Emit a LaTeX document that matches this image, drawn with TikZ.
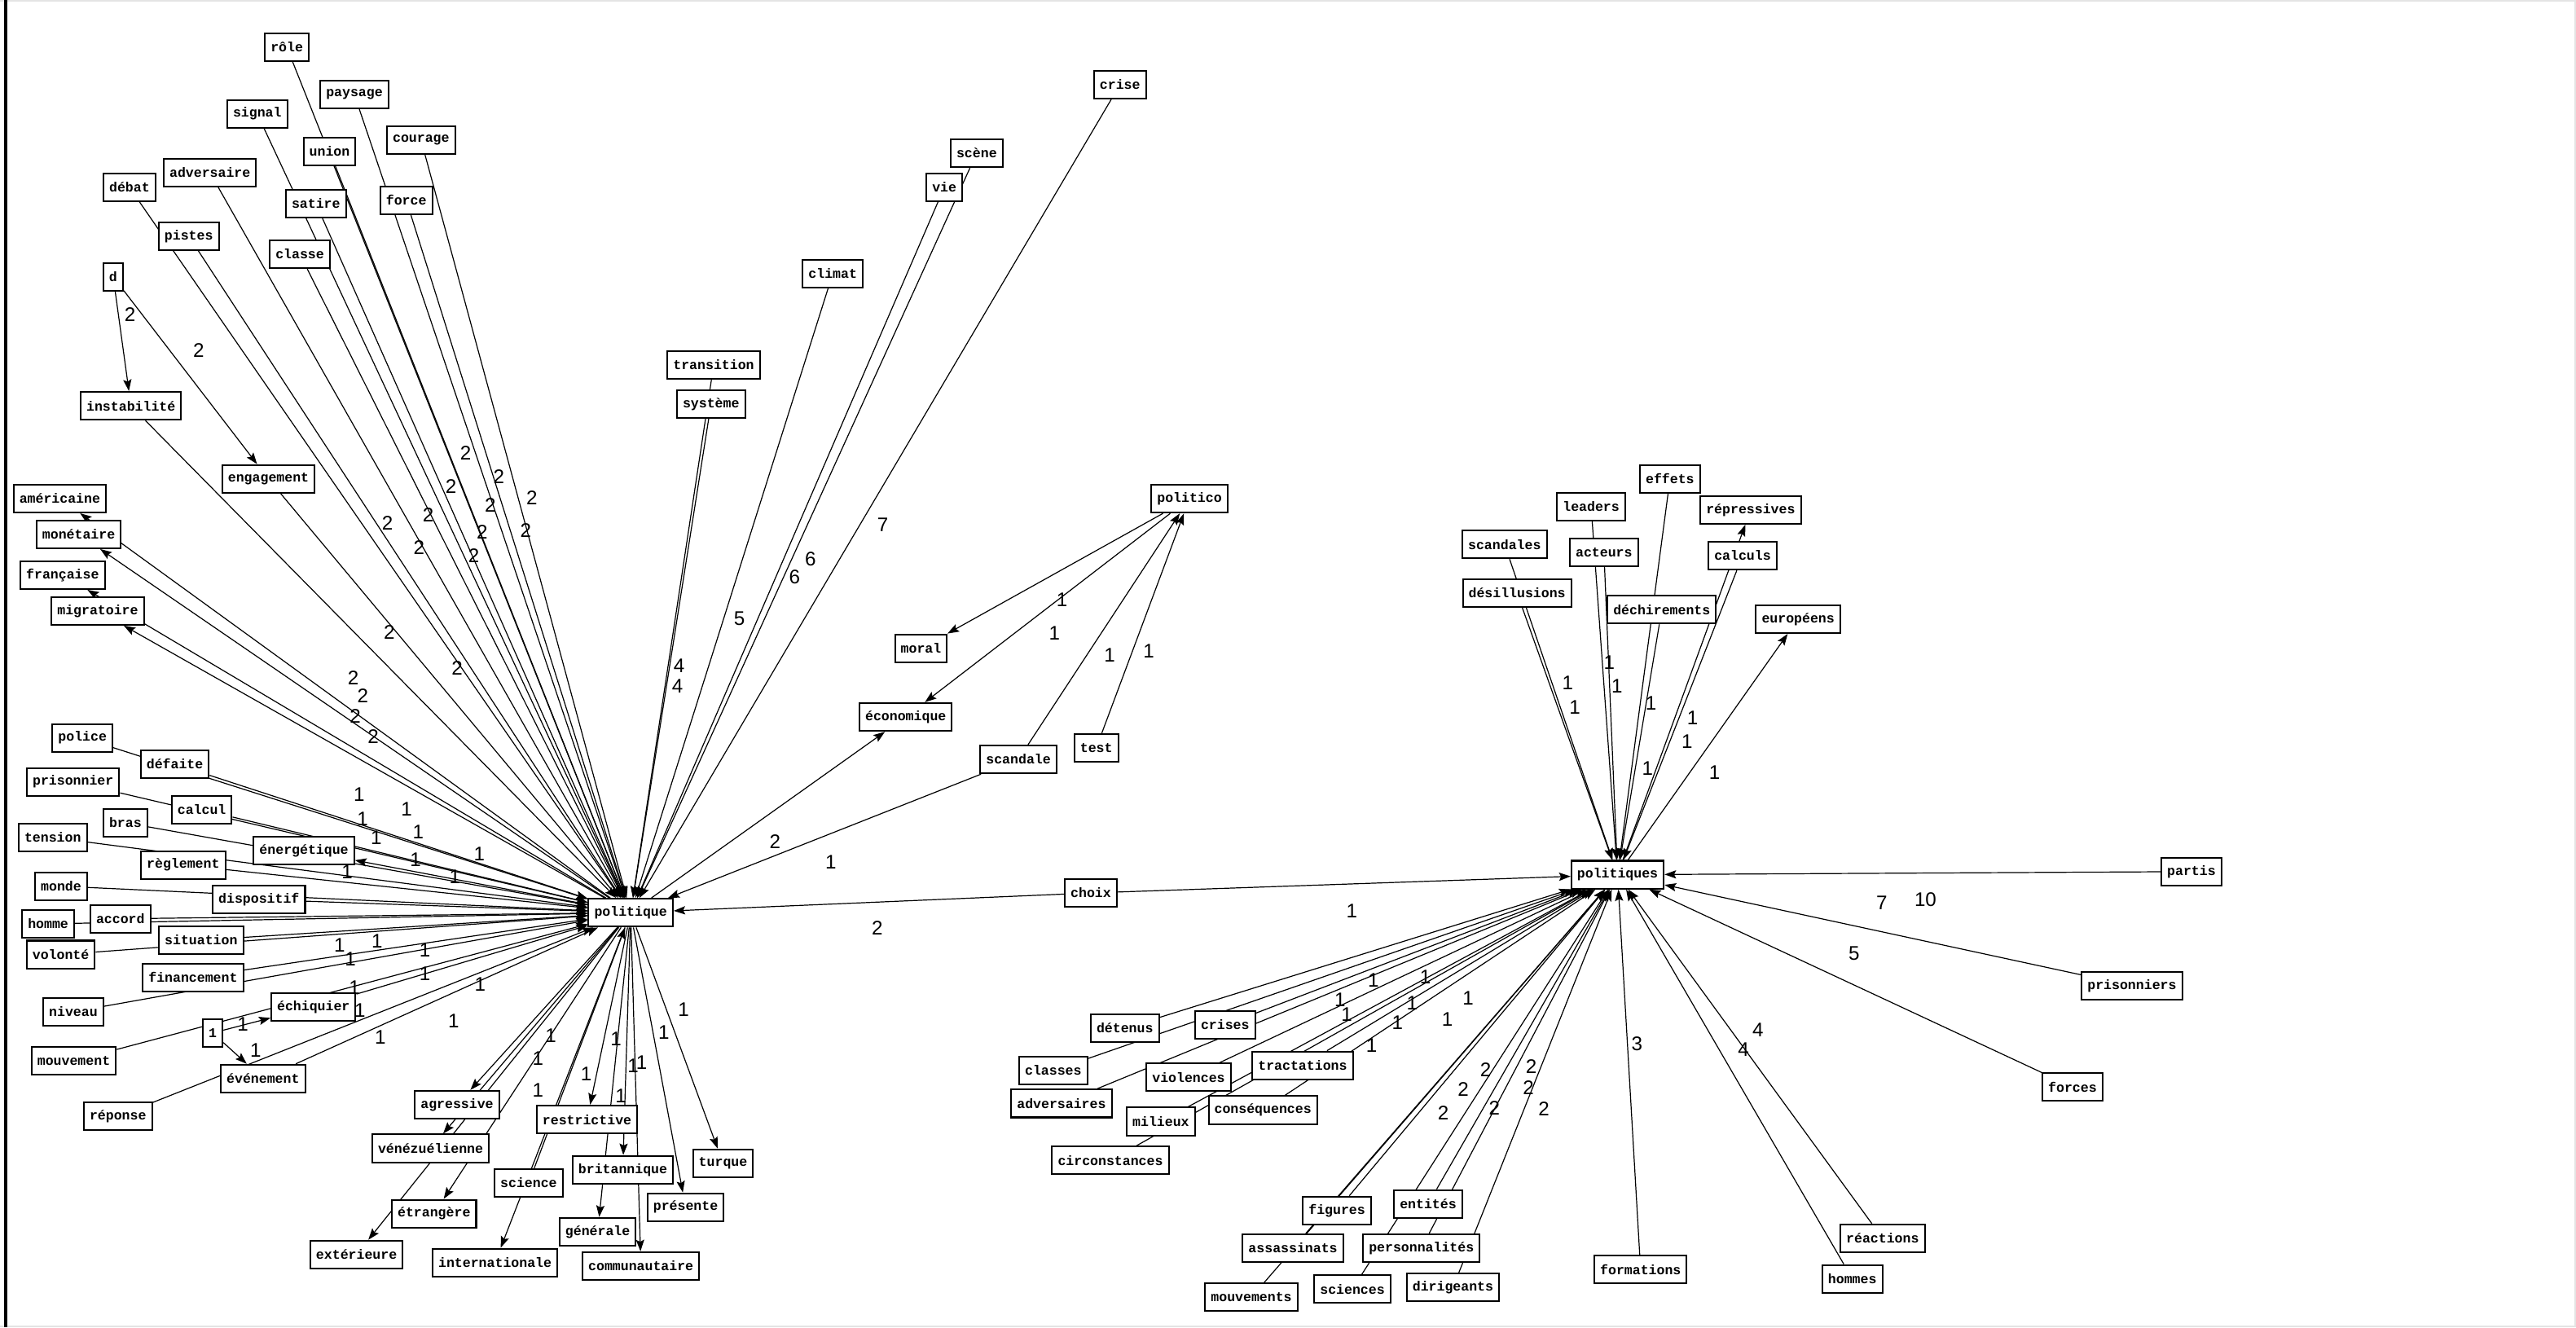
\documentclass[tikz,border=0pt]{standalone}
\usepackage{fontspec}
\setmainfont{Liberation Serif}
\newfontfamily\boxfont{Liberation Mono}
\newfontfamily\numfont{Liberation Sans}
\usetikzlibrary{arrows.meta,backgrounds}
\definecolor{edgegray}{HTML}{E4E4E4}
\tikzset{
  word/.style={draw,line width=1pt,fill=white,inner xsep=3.5pt,inner ysep=0pt,minimum height=17pt,font=\boxfont\bfseries\fontsize{8.2}{9}\selectfont},
  num/.style={inner sep=0pt,font=\numfont\fontsize{12}{13}\selectfont},
  arr/.style={-{Stealth[length=7pt,width=5pt,inset=1.2pt]},line width=0.6pt}
}

\begin{document}
\begin{tikzpicture}[x=1pt,y=-1pt]
\useasboundingbox (0,0) rectangle (1568,808);
\draw[edgegray,line width=1pt] (0,0.5)--(1568,0.5) (1567.5,0)--(1567.5,808) (0,807.5)--(1568,807.5);
\draw[line width=1.8pt] (3.4,0)--(3.4,808);

% hub left
\node[word] (pol) at (383.9,555.5) {politique};

% upper fan
\node[word] (role) at (174.6,28.7) {rôle};
\node[word] (paysage) at (215.7,57.5) {paysage};
\node[word] (signal) at (156.6,69.3) {signal};
\node[word] (courage) at (256.3,85.3) {courage};
\node[word] (union) at (200.6,92.2) {union};
\node[word] (adversaire) at (127.8,105.1) {adversaire};
\node[word] (debat) at (78.8,114) {débat};
\node[word] (satire) at (192.3,123.9) {satire};
\node[word] (force) at (247.3,121.9) {force};
\node[word] (pistes) at (114.9,143.7) {pistes};
\node[word] (classe) at (182.5,154.7) {classe};
\node[word] (d) at (68.9,168.5) {d};
\node[word] (instab) at (79.7,247) {instabilité};
\node[word] (engag) at (163.4,291.5) {engagement};
\node[word] (americ) at (36.4,303.4) {américaine};
\node[word] (monet) at (47.9,325.2) {monétaire};
\node[word] (franc) at (38.1,350) {française};
\node[word] (migr) at (59.5,371.8) {migratoire};
\node[word] (transition) at (434.4,222.2) {transition};
\node[word] (systeme) at (432.8,245.9) {système};
\node[word] (climat) at (506.9,166.5) {climat};
\node[word] (scene) at (594.5,93.2) {scène};
\node[word] (vie) at (574.8,114) {vie};
\node[word] (crise) at (681.7,51.5) {crise};
\node[word] (politico) at (724,303.5) {politico};
\node[word] (moral) at (560.6,394.6) {moral};
\node[word] (econ) at (551.3,436.4) {économique};
\node[word] (scandale) at (619.9,462.2) {scandale};
\node[word] (test) at (667.3,455.2) {test};
\node[word] (choix) at (664,543.5) {choix};

% lower left
\node[word] (police) at (50.2,449.1) {police};
\node[word] (defaite) at (106.4,465) {défaite};
\node[word] (prisonnier) at (44.5,475.9) {prisonnier};
\node[word] (calcul) at (122.8,492.8) {calcul};
\node[word] (bras) at (76.3,500.8) {bras};
\node[word] (tension) at (32.1,509.8) {tension};
\node[word] (energ) at (185,517.7) {énergétique};
\node[word] (reglement) at (111.5,526.5) {règlement};
\node[word] (monde) at (37.2,539.4) {monde};
\node[word] (dispositif) at (157.6,547.5) {dispositif};
\node[word] (homme) at (29.3,562.3) {homme};
\node[word] (accord) at (73.3,559.2) {accord};
\node[word] (situation) at (122.4,572.2) {situation};
\node[word] (volonte) at (37,581) {volonté};
\node[word] (financement) at (117.5,595) {financement};
\node[word] (niveau) at (44.6,615.8) {niveau};
\node[word] (echiquier) at (190.8,612.8) {échiquier};
\node[word] (un) at (129.5,628.7) {1};
\node[word] (mouvement) at (44.9,645.7) {mouvement};
\node[word] (evenement) at (160.1,656.5) {événement};
\node[word] (reponse) at (71.8,679.4) {réponse};

% lower right of politique
\node[word] (agressive) at (278.2,672.4) {agressive};
\node[word] (venez) at (262.1,699) {vénézuélienne};
\node[word] (restrictive) at (357.3,681.4) {restrictive};
\node[word] (britannique) at (379.1,712) {britannique};
\node[word] (turque) at (440.1,708) {turque};
\node[word] (science) at (321.8,720) {science};
\node[word] (etrangere) at (264.2,738.7) {étrangère};
\node[word] (presente) at (417.3,734.8) {présente};
\node[word] (generale) at (363.8,749.7) {générale};
\node[word] (exterieure) at (217,763.6) {extérieure};
\node[word] (internat) at (301.3,768.5) {internationale};
\node[word] (communaut) at (390.1,770.6) {communautaire};

% hub right
\node[word] (pols) at (984.6,532.4) {politiques};
\node[word] (effets) at (1016.5,291.5) {effets};
\node[word] (leaders) at (968.5,308.3) {leaders};
\node[word] (repress) at (1065.6,310.4) {répressives};
\node[word] (scandales) at (915.8,331.3) {scandales};
\node[word] (acteurs) at (976.3,336.2) {acteurs};
\node[word] (calculs) at (1060.7,338.2) {calculs};
\node[word] (desill) at (923.4,360.9) {désillusions};
\node[word] (dechir) at (1011.5,371) {déchirements};
\node[word] (europ) at (1094.5,376.8) {européens};
\node[word] (partis) at (1333.9,530.5) {partis};
\node[word] (prisonniers) at (1297.7,600) {prisonniers};
\node[word] (forces) at (1261.5,661.5) {forces};
\node[word] (detenus) at (684.7,625.8) {détenus};
\node[word] (crises) at (745.7,623.8) {crises};
\node[word] (classes) at (641.1,651.6) {classes};
\node[word] (tractations) at (792.9,648.5) {tractations};
\node[word] (violences) at (723.5,655.7) {violences};
\node[word] (adversaires) at (646.1,671.6) {adversaires};
\node[word] (consequences) at (768.7,675.6) {conséquences};
\node[word] (milieux) at (706.6,682.6) {milieux};
\node[word] (circonst) at (675.9,706.3) {circonstances};
\node[word] (figures) at (813.8,736.8) {figures};
\node[word] (entites) at (869.3,732.8) {entités};
\node[word] (assassinats) at (787,759.7) {assassinats};
\node[word] (personn) at (865.2,759.7) {personnalités};
\node[word] (mouvements) at (761.7,789.6) {mouvements};
\node[word] (sciences) at (823.2,784.6) {sciences};
\node[word] (dirigeants) at (884.4,783.6) {dirigeants};
\node[word] (formations) at (998.6,772.6) {formations};
\node[word] (reactions) at (1145.9,753.7) {réactions};
\node[word] (hommes) at (1127.5,778.4) {hommes};

% links, under the boxes
\begin{scope}[on background layer]
\draw[arr] (role)--(pol); \draw[arr] (union)--(pol); \draw[arr] (signal)--(pol); \draw[arr] (satire)--(pol);
\draw[arr] (paysage)--(pol); \draw[arr] (force)--(pol); \draw[arr] (courage)--(pol); \draw[arr] (adversaire)--(pol);
\draw[arr] (debat)--(pol); \draw[arr] (pistes)--(pol); \draw[arr] (classe)--(pol);
\draw[arr] (instab)--(pol); \draw[arr] (engag)--(pol);
\draw[arr] (d)--(instab); \draw[arr] (d)--(engag);
\draw[arr] (pol)--(americ); \draw[arr] (pol)--(monet); \draw[arr] (pol)--(franc); \draw[arr] (pol)--(migr);
\draw[arr] (transition)--(pol); \draw[arr] (systeme)--(pol); \draw[arr] (climat)--(pol);
\draw[arr] (vie)--(pol); \draw[arr] (scene)--(pol); \draw[arr] (crise)--(pol);
\draw[arr] (politico)--(moral); \draw[arr] (politico)--(econ); \draw[arr] (scandale)--(politico); \draw[arr] (test)--(politico);
\draw[arr] (pol)--(econ); \draw[arr] (scandale)--(pol); \draw[arr] (choix)--(pol); \draw[arr] (choix)--(pols);

\draw[arr] (police)--(pol); \draw[arr] (defaite)--(pol); \draw[arr] (prisonnier)--(pol); \draw[arr] (calcul)--(pol);
\draw[arr] (bras)--(pol); \draw[arr] (tension)--(pol); \draw[arr] (reglement)--(pol); \draw[arr] (monde)--(pol);
\draw[arr] (dispositif)--(pol); \draw[arr] (homme)--(pol); \draw[arr] (accord)--(pol); \draw[arr] (situation)--(pol);
\draw[arr] (volonte)--(pol); \draw[arr] (financement)--(pol); \draw[arr] (niveau)--(pol); \draw[arr] (echiquier)--(pol);
\draw[arr] (mouvement)--(pol); \draw[arr] (evenement)--(pol); \draw[arr] (reponse)--(pol);
\draw[arr] (pol)--(energ); \draw[arr] (un)--(echiquier); \draw[arr] (un)--(evenement);

\draw[arr] (pol)--(agressive); \draw[arr] (pol)--(venez); \draw[arr] (pol)--(etrangere); \draw[arr] (pol)--(exterieure);
\draw[arr] (pol)--(restrictive); \draw[arr] (pol)--(britannique); \draw[arr] (pol)--(generale); \draw[arr] (pol)--(communaut);
\draw[arr] (pol)--(internat); \draw[arr] (science)--(pol); \draw[arr] (pol)--(turque); \draw[arr] (pol)--(presente);

\draw[arr] (scandales)--(pols); \draw[arr] (desill)--(pols); \draw[arr] (leaders)--(pols); \draw[arr] (acteurs)--(pols);
\draw[arr] (effets)--(pols); \draw[arr] (dechir)--(pols); \draw[arr] (calculs)--(pols);
\draw[arr] (pols)--(repress); \draw[arr] (pols)--(europ);
\draw[arr] (partis)--(pols); \draw[arr] (prisonniers)--(pols); \draw[arr] (forces)--(pols);
\draw[arr] (reactions)--(pols); \draw[arr] (hommes)--(pols); \draw[arr] (formations)--(pols);
\draw[arr] (detenus)--(pols); \draw[arr] (crises)--(pols); \draw[arr] (classes)--(pols); \draw[arr] (tractations)--(pols);
\draw[arr] (violences)--(pols); \draw[arr] (adversaires)--(pols); \draw[arr] (consequences)--(pols);
\draw[arr] (milieux)--(pols); \draw[arr] (circonst)--(pols);
\draw[arr] (figures)--(pols); \draw[arr] (entites)--(pols); \draw[arr] (assassinats)--(pols); \draw[arr] (personn)--(pols);
\draw[arr] (mouvements)--(pols); \draw[arr] (sciences)--(pols); \draw[arr] (dirigeants)--(pols);
\end{scope}

% weights
\node[num] (w1) at (79.2,191.3) {2}; \node[num] (w2) at (120.9,213.4) {2};
\node[num] (w3) at (283.4,275.8) {2}; \node[num] (w4) at (303.6,289.9) {2}; \node[num] (w5) at (323.8,303.2) {2};
\node[num] (w6) at (274.5,296.1) {2}; \node[num] (w7) at (298.5,307.6) {2}; \node[num] (w8) at (320,322.7) {2};
\node[num] (w9) at (260.6,313.5) {2}; \node[num] (w10) at (293.5,323.6) {2}; \node[num] (w11) at (235.8,318.3) {2};
\node[num] (w12) at (255,333.3) {2}; \node[num] (w13) at (288.4,338.3) {2}; \node[num] (w14) at (237,384.7) {2};
\node[num] (w15) at (278.3,406.8) {2}; \node[num] (w16) at (215,412.7) {2}; \node[num] (w17) at (220.9,423.6) {2};
\node[num] (w18) at (216.3,436) {2}; \node[num] (w19) at (227.2,448.1) {2};
\node[num] (w20) at (471.8,512.2) {2}; \node[num] (w21) at (534,565) {2};
\node[num] (w22) at (413.4,405) {4}; \node[num] (w23) at (412.4,417.4) {4}; \node[num] (w24) at (450.1,376.7) {5};
\node[num] (w25) at (483.7,351) {6}; \node[num] (w26) at (493.3,340.4) {6}; \node[num] (w27) at (537.4,319.2) {7};
\node[num] (w28) at (646.4,365.2) {1}; \node[num] (w29) at (641.8,385.6) {1}; \node[num] (w30) at (675.5,398.9) {1};
\node[num] (w31) at (699.3,396.2) {1}; \node[num] (w32) at (505.7,524.6) {1}; \node[num] (w33) at (822.8,554.7) {1};

\node[num] (v1) at (218.6,483.5) {1}; \node[num] (v2) at (247.5,492.6) {1}; \node[num] (v3) at (220.7,498.4) {1};
\node[num] (v4) at (229,510) {1}; \node[num] (v5) at (254.6,506.6) {1}; \node[num] (v6) at (291.8,519.9) {1};
\node[num] (v7) at (252.9,523.2) {1}; \node[num] (v8) at (276.9,533.9) {1}; \node[num] (v9) at (211.3,530.6) {1};
\node[num] (v10) at (206.7,575.2) {1}; \node[num] (v11) at (229.5,572.8) {1}; \node[num] (v12) at (213.3,583.5) {1};
\node[num] (v13) at (258.7,578.5) {1}; \node[num] (v14) at (258.7,592.6) {1}; \node[num] (v15) at (292.3,599.2) {1};
\node[num] (v16) at (215.8,600.9) {1}; \node[num] (v17) at (219.1,614.9) {1}; \node[num] (v18) at (276.1,621.5) {1};
\node[num] (v19) at (231.5,631.4) {1}; \node[num] (v20) at (147.8,623.4) {1}; \node[num] (v21) at (155.6,639.1) {1};
\node[num] (v22) at (335.3,630.4) {1}; \node[num] (v23) at (327.4,644.3) {1}; \node[num] (v24) at (416.1,614.7) {1};
\node[num] (v25) at (404.1,628.6) {1}; \node[num] (v26) at (374.9,632.1) {1}; \node[num] (v27) at (390.5,646.9) {1};
\node[num] (v28) at (385.4,648.6) {1}; \node[num] (v29) at (356.9,653.9) {1}; \node[num] (v30) at (327.4,663.4) {1};
\node[num] (v31) at (377.9,666.9) {1};

\node[num] (r1) at (954.3,415.7) {1}; \node[num] (r2) at (958.6,430.4) {1}; \node[num] (r3) at (979.6,403.3) {1};
\node[num] (r4) at (984.2,417.4) {1}; \node[num] (r5) at (1004.9,428.1) {1}; \node[num] (r6) at (1030.2,436.9) {1};
\node[num] (r7) at (1026.9,451.1) {1}; \node[num] (r8) at (1002.9,467.9) {1}; \node[num] (r9) at (1043.6,470.2) {1};
\node[num] (r10) at (836,596.5) {1}; \node[num] (r11) at (867.6,594.5) {1}; \node[num] (r12) at (815.7,608.4) {1};
\node[num] (r13) at (819.8,617.4) {1}; \node[num] (r14) at (859.5,610.4) {1}; \node[num] (r15) at (893.6,607.5) {1};
\node[num] (r16) at (850.6,622.4) {1}; \node[num] (r17) at (881,620.4) {1}; \node[num] (r18) at (834.9,636.3) {1};
\node[num] (r19) at (904.3,650.9) {2}; \node[num] (r20) at (890.6,662.8) {2}; \node[num] (r21) at (878.5,677.2) {2};
\node[num] (r22) at (932.1,648.9) {2}; \node[num] (r23) at (930.3,662.2) {2}; \node[num] (r24) at (909.6,674.2) {2};
\node[num] (r25) at (939.7,674.8) {2};
\node[num] (r26) at (996.4,635.3) {3}; \node[num] (r27) at (1070.1,627) {4}; \node[num] (r28) at (1061.2,638.9) {4};
\node[num] (r29) at (1128.6,580.2) {5}; \node[num] (r30) at (1145.4,549.3) {7}; \node[num] (r31) at (1172,547.7) {10};
\end{tikzpicture}
\end{document}
